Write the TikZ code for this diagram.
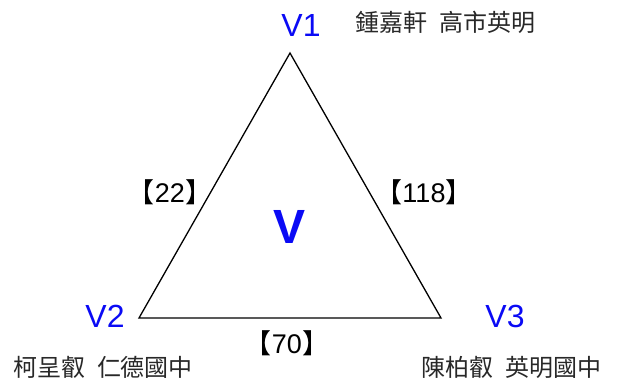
\documentclass[tikz,border=0pt]{standalone}
\usepackage{fontspec}
\setmainfont{Liberation Sans}
\newfontfamily\cjk{Noto Sans CJK TC}
\definecolor{vblue}{RGB}{10,10,245}
\definecolor{cjkgray}{RGB}{40,40,40}
\tikzset{
  vlabel/.style={text=vblue, font=\fontsize{32}{32}\selectfont, inner sep=0pt},
  cjkname/.style={text=cjkgray, font=\cjk\fontsize{24}{24}\selectfont, inner sep=0pt},
  weightlbl/.style={text=black, font=\fontsize{27}{27}\selectfont, inner sep=0pt},
  triedge/.style={draw=black, line width=1.3pt},
}
\begin{document}
\begin{tikzpicture}[x=1pt,y=-1pt]
\useasboundingbox (0,0) rectangle (619,383);
\coordinate (a) at (290,53);
\coordinate (b) at (139,318);
\coordinate (c) at (441,318);
\draw[triedge] (a) -- (b) -- (c) -- cycle;
\node[vlabel] (v1) at (301,25) {V1};
\node[vlabel] (v2) at (105,316) {V2};
\node[vlabel] (v3) at (505,316) {V3};
\node[text=vblue, font=\bfseries\fontsize{48}{48}\selectfont, inner sep=0pt] (v) at (290,227) {V};
\node[cjkname] (n1) at (445,22) {鍾嘉軒\hspace{0.5em}高市英明};
\node[cjkname] (n2) at (103,367) {柯呈叡\hspace{0.5em}仁德國中};
\node[cjkname] (n3) at (511,367) {陳柏叡\hspace{0.5em}英明國中};
\node[weightlbl] (w1) at (170,192) {{\cjk 【}22{\cjk 】}};
\node[weightlbl] (w2) at (424,192) {{\cjk 【}118{\cjk 】}};
\node[weightlbl] (w3) at (287,343) {{\cjk 【}70{\cjk 】}};
\end{tikzpicture}
\end{document}
